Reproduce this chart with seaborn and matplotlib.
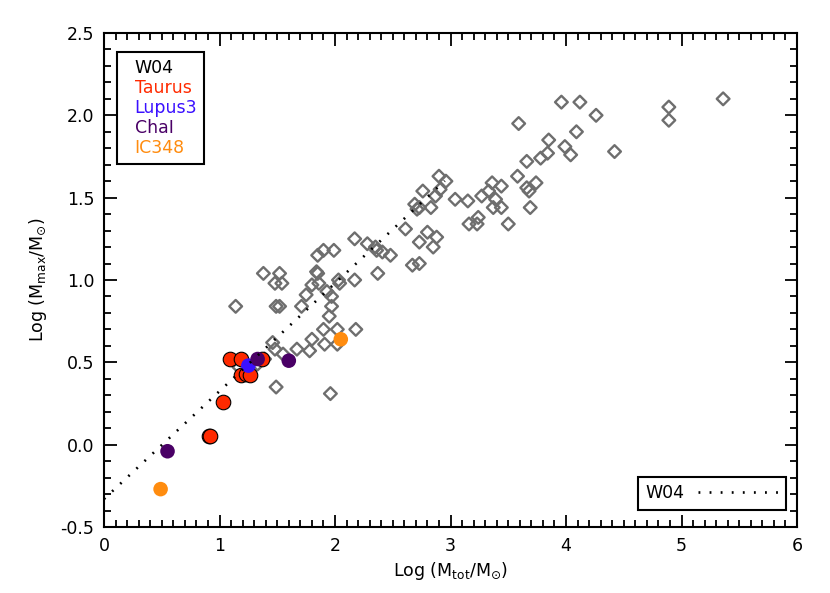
import matplotlib
matplotlib.use("Agg")
import matplotlib.pyplot as plt
from matplotlib.lines import Line2D
from matplotlib.ticker import MultipleLocator, FormatStrFormatter
import numpy as np
import seaborn as sns

# W04 comparison sample (grey open diamonds)
w04_logmtot = [
    1.14, 1.38, 1.52, 1.48, 1.54, 1.49, 1.52, 1.71, 1.75, 1.80, 1.86, 1.84, 1.85,
    1.85, 1.90, 1.99, 2.17, 2.28, 2.36, 2.37, 2.17, 2.03, 2.04, 1.93, 1.97, 1.97,
    1.95, 1.90, 2.02, 2.18, 1.80, 1.91, 2.02, 1.78, 1.67, 1.55, 1.46, 1.48, 1.49,
    1.96, 1.17, 1.33, 1.39,
    2.90, 2.96, 2.76, 2.91, 2.87, 2.69, 2.73, 2.71, 2.83, 3.04, 3.15, 3.27, 3.33,
    3.36, 3.44, 3.39, 3.37, 3.44, 3.24, 3.16, 3.23, 3.50, 3.58, 3.66, 3.66, 3.68,
    3.69, 2.61, 2.80, 2.88, 2.73, 2.85, 2.35, 2.41, 2.48, 2.67, 2.73,
    3.96, 4.12, 4.26, 3.59, 4.09, 3.85, 3.99, 4.04, 4.42, 3.84, 3.78, 3.74,
    4.89, 4.89, 5.36,
]
w04_logmmax = [
    0.84, 1.04, 1.04, 0.98, 0.98, 0.84, 0.84, 0.84, 0.91, 0.97, 0.98, 1.05, 1.04,
    1.15, 1.18, 1.18, 1.25, 1.22, 1.18, 1.04, 1.00, 1.00, 0.98, 0.93, 0.90, 0.84,
    0.78, 0.70, 0.70, 0.70, 0.64, 0.61, 0.61, 0.57, 0.58, 0.55, 0.62, 0.58, 0.35,
    0.31, 0.47, 0.49, 0.52,
    1.63, 1.60, 1.54, 1.55, 1.51, 1.46, 1.44, 1.43, 1.44, 1.49, 1.48, 1.51, 1.54,
    1.59, 1.57, 1.49, 1.44, 1.44, 1.38, 1.34, 1.34, 1.34, 1.63, 1.72, 1.56, 1.54,
    1.44, 1.31, 1.29, 1.26, 1.23, 1.20, 1.20, 1.17, 1.15, 1.09, 1.10,
    2.08, 2.08, 2.00, 1.95, 1.90, 1.85, 1.81, 1.76, 1.78, 1.77, 1.74, 1.59,
    2.05, 1.97, 2.10,
]

# Observed regions
taurus_x = [1.09, 1.19, 1.37, 1.19, 1.23, 1.26, 1.03, 0.91, 0.92]
taurus_y = [0.52, 0.52, 0.52, 0.42, 0.43, 0.42, 0.26, 0.05, 0.05]
lupus3_x = [1.25]
lupus3_y = [0.48]
chai_x = [1.33, 1.60, 0.55]
chai_y = [0.52, 0.51, -0.04]
ic348_x = [2.05, 0.49]
ic348_y = [0.64, -0.27]

# W04 relation
fit_slope = 0.655
fit_intercept = -0.33
fit_xmax = 2.95

sns.set_style("ticks")
plt.rcParams["font.family"] = ["DejaVu Sans"]
plt.rcParams["mathtext.fontset"] = "dejavusans"
for key in ["text.color", "axes.labelcolor", "xtick.color", "ytick.color"]:
    plt.rcParams[key] = "black"

fig = plt.figure(figsize=(8.3, 5.93), dpi=100)
ax = fig.add_axes([0.1253, 0.1113, 0.835, 0.8331])

sns.scatterplot(x=w04_logmtot, y=w04_logmmax, marker="D", s=42,
                facecolors="none", edgecolor="#6e6e6e", linewidth=1.7,
                ax=ax, zorder=2)

groups = [
    ("Taurus", taurus_x, taurus_y, "#ff2a00", "black"),
    ("Lupus3", lupus3_x, lupus3_y, "#3a10ff", "none"),
    ("ChaI", chai_x, chai_y, "#4a0066", "none"),
    ("IC348", ic348_x, ic348_y, "#ff8c0f", "none"),
]
for name, gx, gy, col, ec in groups:
    sns.scatterplot(x=gx, y=gy, color=col, s=110, edgecolor=ec,
                    linewidth=0.8, ax=ax, zorder=3)

dots = (0, (0.7, 3.5))
xf = np.linspace(0, fit_xmax, 50)
ax.plot(xf, fit_slope * xf + fit_intercept, color="black", lw=1.9,
        linestyle=dots, zorder=4)

ax.set_xlim(0, 6)
ax.set_ylim(-0.5, 2.5)
ax.xaxis.set_major_locator(MultipleLocator(1))
ax.xaxis.set_minor_locator(MultipleLocator(0.1))
ax.yaxis.set_major_locator(MultipleLocator(0.5))
ax.yaxis.set_minor_locator(MultipleLocator(0.1))
ax.yaxis.set_major_formatter(FormatStrFormatter("%.1f"))
ax.tick_params(which="both", direction="in", top=True, right=True,
               color="black", labelcolor="black", width=1.3,
               labelsize=12.5, pad=7)
ax.tick_params(which="major", length=9)
ax.tick_params(which="minor", length=5)
for sp in ax.spines.values():
    sp.set_visible(True)
    sp.set_linewidth(1.5)
    sp.set_color("black")

ax.set_xlabel(r"Log (M$_{\rm tot}$/M$_{\odot}$)", fontsize=12.5)
ax.set_ylabel(r"Log (M$_{\rm max}$/M$_{\odot}$)", fontsize=12.5, labelpad=8)

# text-only legend, top left
labels = ["W04", "Taurus", "Lupus3", "ChaI", "IC348"]
colors = ["black", "#ff2a00", "#3a10ff", "#4a0066", "#ff8c0f"]
handles = [Line2D([], [], linestyle="none", marker=None) for _ in labels]
leg1 = ax.legend(handles, labels, labelcolor=colors, loc="upper left",
                 bbox_to_anchor=(0.019, 0.962), borderaxespad=0,
                 handlelength=0, handletextpad=0.6, fontsize=12.5,
                 fancybox=False, framealpha=1, edgecolor="black",
                 borderpad=0.4, labelspacing=0.12)
leg1.get_frame().set_linewidth(1.5)
ax.add_artist(leg1)

# line legend, bottom right
fit_handle = Line2D([], [], color="black", lw=1.9, linestyle=dots)
leg2 = ax.legend([fit_handle], ["W04"], loc="lower right",
                 bbox_to_anchor=(0.984, 0.034), borderaxespad=0,
                 markerfirst=False, handlelength=4.6, fontsize=12.5,
                 fancybox=False, framealpha=1, edgecolor="black",
                 borderpad=0.45)
leg2.get_frame().set_linewidth(1.5)

fig.savefig("out.png", dpi=100)
